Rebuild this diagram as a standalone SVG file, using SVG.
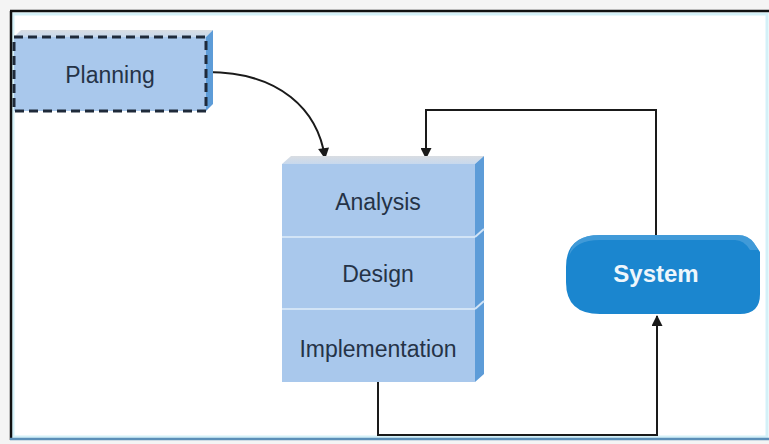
<svg xmlns="http://www.w3.org/2000/svg" width="769" height="444" viewBox="0 0 769 444">
<defs>
<marker id="ah" viewBox="0 0 10 10" refX="9" refY="5" markerWidth="12" markerHeight="11" markerUnits="userSpaceOnUse" orient="auto">
<path d="M0,0 L10,5 L0,10 z" fill="#1a1a1a"/>
</marker>
<linearGradient id="top" x1="0" y1="0" x2="0" y2="1">
<stop offset="0" stop-color="#d9dde2"/>
<stop offset="1" stop-color="#c7d9ee"/>
</linearGradient>
</defs>
<style>
.face{fill:#a9c8ec}
.side{fill:#5d9cd8}
.topf{fill:url(#top)}
.lbl{font-family:"Liberation Sans",Arial,sans-serif;font-size:23px;fill:#253347;text-anchor:middle}
.conn{fill:none;stroke:#1a1a1a;stroke-width:2}
.div{stroke:#d2e4f6;stroke-width:2}
</style>
<rect x="0" y="0" width="769" height="444" fill="#f4f4f4"/>
<rect x="10" y="11" width="759" height="429" fill="#ffffff"/>
<rect x="13" y="14" width="754" height="423" fill="none" stroke="#d4f1f8" stroke-width="3"/>
<line x1="10" y1="11" x2="769" y2="11" stroke="#111" stroke-width="2.5"/>
<line x1="11" y1="11" x2="11" y2="440" stroke="#111" stroke-width="2.5"/>
<line x1="10" y1="439" x2="769" y2="439" stroke="#5b8fb8" stroke-width="2.5"/>

<g id="connectors">
<path class="conn" d="M207,72 C280,72 318,110 325,158" marker-end="url(#ah)"/>
<path class="conn" d="M656,235 L656,110 L426,110 L426,158" marker-end="url(#ah)"/>
<path class="conn" d="M378,382 L378,435 L657,435 L657,316" marker-end="url(#ah)"/>
</g>

<g id="planning">
<polygon class="topf" points="14,37 21,30 213,30 206,37"/>
<polygon class="side" points="206,37 213,30 213,104 206,111"/>
<rect class="face" x="14" y="37" width="192" height="74"/>
<rect x="14" y="37" width="192" height="74" fill="none" stroke="#1f2a3a" stroke-width="3" stroke-dasharray="9,5"/>
<text class="lbl" x="110" y="83">Planning</text>
</g>

<g id="stack">
<polygon class="topf" points="282,164 291,156 484,156 475,164"/>
<polygon class="side" points="475,164 484,156 484,374 475,382"/>
<rect class="face" x="282" y="164" width="193" height="218"/>
<line class="div" x1="282" y1="237" x2="475" y2="237"/>
<line class="div" x1="282" y1="309" x2="475" y2="309"/>
<line class="div" x1="475" y1="237" x2="484" y2="229"/>
<line class="div" x1="475" y1="309" x2="484" y2="301"/>
<g id="analysis"><text class="lbl" x="378" y="210">Analysis</text></g>
<g id="design"><text class="lbl" x="378" y="282">Design</text></g>
<g id="implementation"><text class="lbl" x="378" y="357">Implementation</text></g>
</g>

<g id="system">
<path d="M600,235 L738,235 Q748,235 754,243 L760,252 L760,294 Q760,314 740,314 L600,314 Q566,314 566,282 L566,267 Q566,235 600,235 z" fill="#1b86cf"/>
<path d="M600,235 L738,235 Q748,235 754,243 L758,250 L750,250 Q744,240 735,240 L600,240 Q575,240 569,256 Q572,235 600,235 z" fill="#5aa8de" opacity="0.6"/>
<text x="656" y="282" font-family="'Liberation Sans',Arial,sans-serif" font-size="24" font-weight="bold" fill="#eef6fc" text-anchor="middle">System</text>
</g>
</svg>
